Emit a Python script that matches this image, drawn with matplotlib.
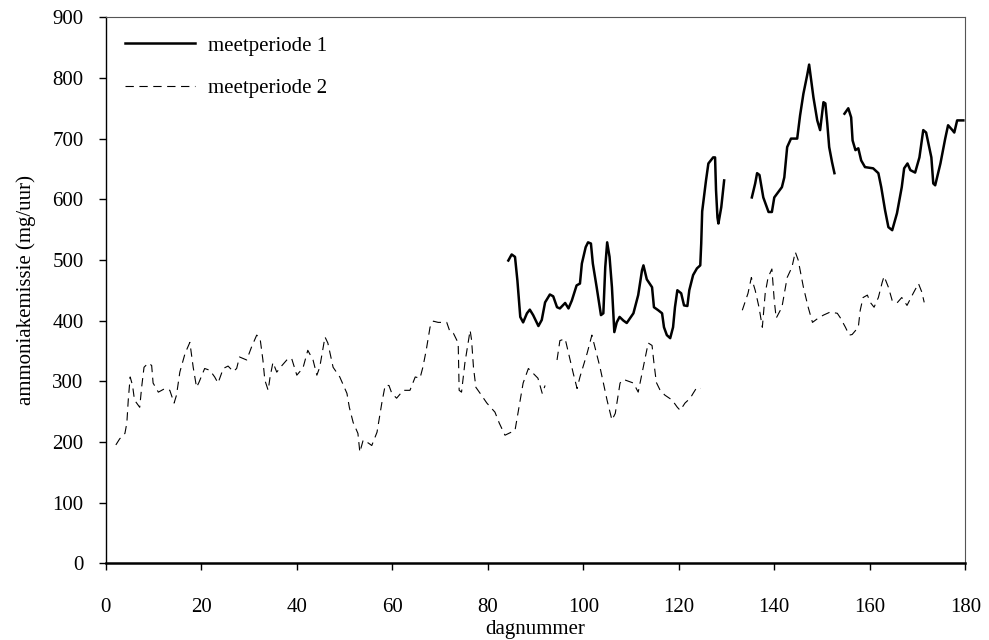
import matplotlib.pyplot as plt

plt.rcParams['font.family'] = ['Liberation Serif', 'DejaVu Serif']

# meetperiode 1 (doorgetrokken lijn), drie meetblokken
p1_dag_a = [84.3, 85.0, 85.7, 86.2, 86.8, 87.4, 88.2, 88.8, 89.5, 90.6, 91.3, 92.0, 93.0, 93.7,
            94.5, 95.1, 96.2, 96.9, 97.6, 98.6, 99.3, 99.7, 100.5, 101.0, 101.6, 102.0, 102.8,
            103.7, 104.2, 104.6, 105.0, 105.5, 106.0, 106.5, 107.0, 107.6, 108.4, 109.1, 110.5,
            111.5, 112.3, 112.6, 113.3, 114.4, 114.8, 115.7, 116.5, 116.9, 117.5, 118.2, 118.8,
            119.2, 119.7, 120.5, 121.1, 121.8, 122.2, 123.0, 123.8, 124.5, 124.7, 124.9, 125.7,
            126.2, 127.2, 127.6, 127.8, 128.1, 128.3, 128.9, 129.5]
p1_nh3_a = [499, 509, 505, 466, 406, 397, 412, 418, 409, 391, 401, 430, 443, 440,
            422, 420, 429, 420, 433, 458, 461, 494, 521, 529, 527, 494, 455,
            409, 412, 488, 529, 505, 455, 381, 397, 406, 400, 396, 412,
            442, 483, 491, 468, 455, 422, 417, 412, 389, 376, 371, 389,
            422, 450, 445, 425, 424, 450, 475, 486, 491, 527, 580, 631,
            659, 669, 669, 615, 570, 560, 587, 631]

p1_dag_b = [135.3, 136.0, 136.4, 136.9, 137.7, 138.8, 139.5, 140.0, 141.6, 142.1, 142.7, 143.5,
            144.8, 145.4, 146.1, 146.9, 147.3, 148.2, 149.0, 149.6, 150.3, 150.7, 151.1, 151.5,
            152.1, 152.6]
p1_nh3_b = [603, 626, 643, 640, 603, 579, 579, 603, 620, 636, 686, 700,
            700, 738, 774, 805, 822, 768, 730, 714, 760, 758, 725, 686,
            661, 643]

p1_dag_c = [154.7, 155.5, 156.1, 156.4, 157.0, 157.6, 158.2, 159.0, 160.7, 161.8, 162.4, 163.2,
            163.9, 164.7, 165.7, 166.7, 167.2, 167.9, 168.5, 169.5, 170.4, 171.2, 171.8, 172.9,
            173.3, 173.7, 174.8, 175.8, 176.4, 177.3, 177.7, 178.3, 179.6]
p1_nh3_c = [741, 750, 735, 697, 681, 684, 664, 653, 651, 643, 620, 582,
            554, 549, 577, 620, 651, 659, 648, 644, 669, 714, 710, 669,
            626, 623, 659, 700, 722, 714, 710, 730, 730]

# meetperiode 2 (stippellijn)
p2_dag_a = [2.1, 2.9, 4.0, 4.4, 4.7, 5.1, 5.6, 6.0, 7.1, 7.5, 8.0, 8.9, 9.6, 9.9, 11.0, 12.4,
            13.4, 14.3, 14.8, 15.5, 16.6, 17.6, 18.3, 19.0, 19.5, 20.7, 21.8, 22.8, 23.5,
            24.6, 25.6, 26.7, 27.4, 28.0, 29.5, 30.5, 31.6, 32.3, 32.9, 33.3, 34.0, 34.4,
            35.0, 35.8, 36.9, 37.9, 38.9, 40.0, 41.3, 42.3, 43.4, 44.2, 44.8, 45.9, 46.5,
            47.6, 49.0, 50.5, 51.0, 51.8, 52.8, 53.2, 53.9, 55.0, 55.7, 56.8, 57.8, 58.5,
            59.3, 59.9, 60.9, 62.3, 63.7, 64.8, 65.8, 66.4, 67.1, 67.9, 68.6, 69.6, 71.4,
            72.1, 72.8, 73.8, 74.0, 74.5, 75.2, 76.3, 76.6, 77.0, 77.5, 78.4, 79.8, 81.5,
            82.4, 83.6, 85.7, 87.4, 88.5, 90.5, 91.4, 92.0]
p2_nh3_a = [195, 205, 214, 231, 269, 307, 293, 269, 257, 290, 323, 330, 326, 297, 282, 288,
            285, 264, 277, 315, 346, 364, 323, 290, 298, 321, 318, 307, 297,
            321, 325, 316, 321, 340, 335, 356, 376, 371, 335, 302, 285, 307,
            331, 315, 326, 335, 338, 310, 322, 351, 335, 310, 323, 373, 363,
            323, 307, 280, 257, 232, 214, 183, 203, 198, 194, 216, 264, 293,
            293, 280, 272, 285, 285, 307, 305, 323, 351, 389, 399, 397, 397,
            381, 379, 363, 285, 282, 330, 384, 368, 323, 290, 280, 264, 249,
            231, 211, 219, 297, 321, 305, 280, 293]

p2_dag_b = [94.5, 95.1, 96.2, 97.9, 98.7, 99.3, 100.8, 101.8, 103.5, 105.0, 106.0, 106.7,
            107.7, 108.4, 110.5, 111.5, 113.0, 113.6, 114.4, 114.8, 115.3, 116.1, 117.1,
            118.6, 119.7, 120.3, 121.3, 122.4, 123.0, 123.8, 124.5]
p2_nh3_b = [335, 367, 370, 313, 288, 307, 346, 376, 323, 268, 236, 247,
            297, 303, 297, 282, 340, 363, 359, 330, 298, 285, 277,
            269, 257, 252, 264, 272, 280, 290, 288]

p2_dag_c = [133.3, 134.5, 135.2, 136.0, 136.8, 137.5, 138.1, 138.7, 139.5, 140.0, 140.4, 141.6,
            142.7, 143.7, 144.4, 145.0, 146.1, 147.1, 148.0, 149.2, 150.3, 151.7, 153.2, 153.8,
            154.9, 155.7, 156.3, 157.6, 158.0, 158.6, 159.5, 160.1, 160.9, 161.8, 162.6, 163.0,
            163.9, 164.7, 165.7, 166.7, 167.8, 169.1, 170.2, 170.9, 171.4]
p2_nh3_c = [417, 445, 471, 450, 422, 389, 445, 471, 485, 433, 404, 422,
            471, 488, 513, 500, 455, 422, 397, 404, 409, 414, 412, 405,
            389, 376, 377, 389, 417, 438, 442, 430, 422, 438, 463, 473,
            455, 433, 429, 438, 425, 445, 461, 447, 430]

periode1 = [(p1_dag_a, p1_nh3_a), (p1_dag_b, p1_nh3_b), (p1_dag_c, p1_nh3_c)]
periode2 = [(p2_dag_a, p2_nh3_a), (p2_dag_b, p2_nh3_b), (p2_dag_c, p2_nh3_c)]

fig = plt.figure(figsize=(9.89, 6.4), dpi=100)
ax = fig.add_axes([0.107, 0.120, 0.869, 0.853])

for i, (d, v) in enumerate(periode1):
    ax.plot(d, v, color='black', linewidth=1.8, solid_joinstyle='round',
            label='meetperiode 1' if i == 0 else None)
for i, (d, v) in enumerate(periode2):
    ax.plot(d, v, color='black', linewidth=0.8, linestyle=(0, (7.5, 5)),
            label='meetperiode 2' if i == 0 else None)

ax.set_xlim(0, 180)
ax.set_ylim(0, 900)
ax.set_xticks(range(0, 181, 20))
ax.set_yticks(range(0, 901, 100))
ax.tick_params(direction='out', length=5, width=1, labelsize=15, colors='black')
ax.tick_params(axis='x', pad=20)
ax.tick_params(axis='y', pad=11)
ax.set_xlabel('dagnummer', fontsize=15, labelpad=2)
ax.set_ylabel('ammoniakemissie (mg/uur)', fontsize=15, labelpad=12)

for side in ['top', 'right']:
    ax.spines[side].set_linewidth(0.8)
    ax.spines[side].set_color('#555555')
ax.spines['left'].set_linewidth(1.0)
ax.spines['bottom'].set_linewidth(1.8)

ax.legend(loc='upper left', frameon=False, fontsize=15, handlelength=3.4,
          labelspacing=1.1, handletextpad=0.6, bbox_to_anchor=(0.0, 1.0),
          borderaxespad=0.5)

fig.savefig('out.png', dpi=100)
